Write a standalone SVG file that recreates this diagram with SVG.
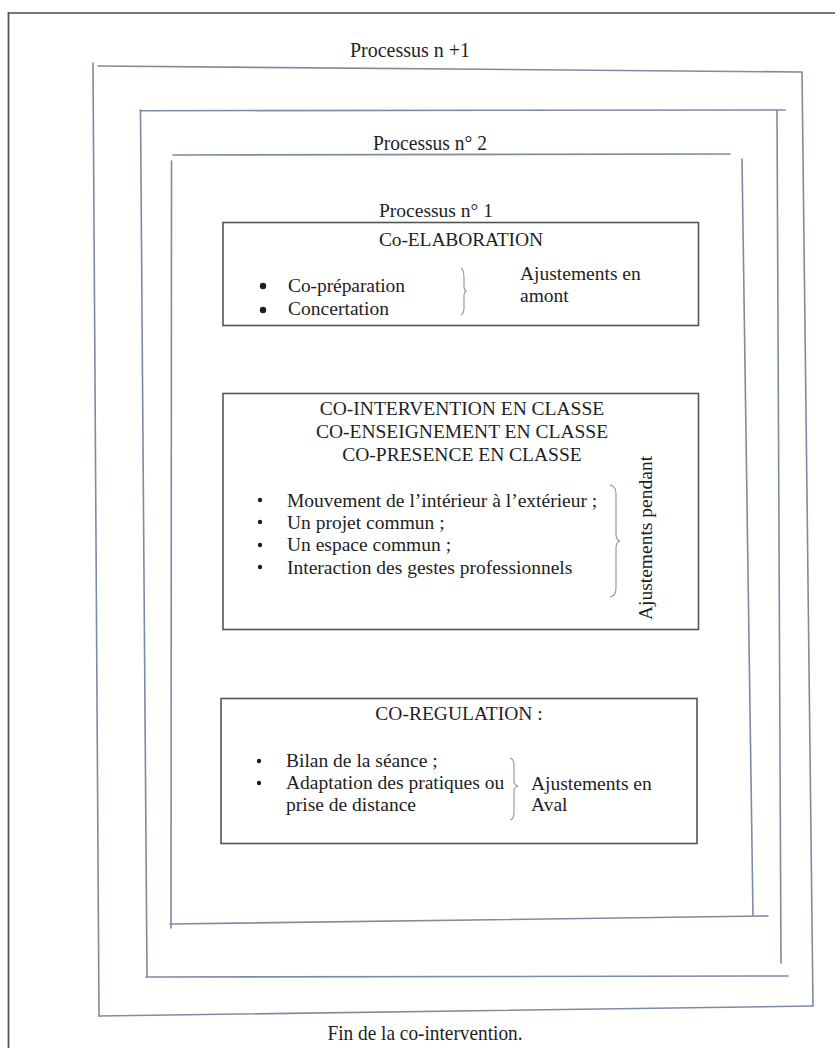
<svg xmlns="http://www.w3.org/2000/svg" width="835" height="1048" viewBox="0 0 835 1048">
<style>
.t{font-family:"Liberation Serif","Times New Roman",serif;font-size:19.5px;fill:#1e1e1e}
.c{text-anchor:middle}
.lbl{font-family:"Liberation Serif","Times New Roman",serif;font-size:21px;fill:#1e1e1e;text-anchor:middle}
.frame{fill:none;stroke:#7d8ba3;stroke-width:1.6;stroke-linecap:round}
.box{fill:#fff;stroke:#555;stroke-width:1.6}
.brace{fill:none;stroke:#8a95a8;stroke-width:1.1}
.bul{fill:#1e1e1e}
</style>
<rect x="0" y="0" width="835" height="1048" fill="#fff"/>
<g id="page-frame">
<line x1="8" y1="13" x2="835" y2="13" stroke="#7a7a7a" stroke-width="2.2"/>
<line x1="8.5" y1="12" x2="8.5" y2="1048" stroke="#555" stroke-width="1.8"/>
</g>
<g id="processus-n-plus-1">
<line class="frame" x1="98" y1="66" x2="801" y2="72"/>
<line class="frame" x1="802" y1="72" x2="813" y2="1006"/>
<line class="frame" x1="99" y1="1016" x2="813" y2="1006"/>
<line class="frame" x1="93" y1="63" x2="99" y2="1016"/>
<text class="lbl" x="410" y="57" textLength="120" lengthAdjust="spacingAndGlyphs">Processus n +1</text>
</g>
<g id="processus-2">
<line class="frame" x1="140" y1="110.7" x2="785" y2="110"/>
<line class="frame" x1="777" y1="110" x2="781" y2="963"/>
<line class="frame" x1="146" y1="977" x2="788" y2="976"/>
<line class="frame" x1="140.5" y1="110" x2="147" y2="977"/>
<text class="lbl" x="430" y="150" textLength="114" lengthAdjust="spacingAndGlyphs">Processus n° 2</text>
</g>
<g id="processus-1">
<line class="frame" x1="173" y1="155" x2="730" y2="154"/>
<line class="frame" x1="742" y1="159" x2="753" y2="916"/>
<line class="frame" x1="170" y1="924" x2="768" y2="916"/>
<line class="frame" x1="171.5" y1="161" x2="171" y2="928"/>
<text class="t c" x="436" y="217">Processus n° 1</text>
</g>
<g id="co-elaboration">
<rect class="box" x="223" y="222.5" width="475.5" height="103"/>
<text class="t c" x="461" y="246" textLength="164" lengthAdjust="spacing">Co-ELABORATION</text>
<circle class="bul" cx="263" cy="286" r="3.2"/>
<circle class="bul" cx="263" cy="310" r="3.2"/>
<text class="t" x="288" y="291.5" textLength="117" lengthAdjust="spacing">Co-préparation</text>
<text class="t" x="288" y="315" textLength="101" lengthAdjust="spacing">Concertation</text>
<text class="t" x="520" y="280">Ajustements en</text>
<text class="t" x="520" y="302">amont</text>
</g>
<g id="co-intervention">
<rect class="box" x="223" y="393.5" width="475.5" height="236"/>
<text class="t c" x="462" y="415">CO-INTERVENTION EN CLASSE</text>
<text class="t c" x="462" y="438">CO-ENSEIGNEMENT EN CLASSE</text>
<text class="t c" x="462" y="461">CO-PRESENCE EN CLASSE</text>
<circle class="bul" cx="260" cy="500" r="2.2"/>
<circle class="bul" cx="260" cy="522" r="2.2"/>
<circle class="bul" cx="260" cy="545" r="2.2"/>
<circle class="bul" cx="260" cy="567" r="2.2"/>
<text class="t" x="287" y="506.5">Mouvement de l’intérieur à l’extérieur ;</text>
<text class="t" x="287" y="528.5">Un projet commun ;</text>
<text class="t" x="287" y="551">Un espace commun ;</text>
<text class="t" x="287" y="573.5">Interaction des gestes professionnels</text>
<text class="t c" transform="translate(652,538) rotate(-90)">Ajustements pendant</text>
</g>
<g id="co-regulation">
<rect class="box" x="221" y="698.5" width="476" height="145"/>
<text class="t c" x="459" y="720">CO-REGULATION :</text>
<circle class="bul" cx="259" cy="761" r="2.2"/>
<circle class="bul" cx="259" cy="783" r="2.2"/>
<text class="t" x="286" y="767">Bilan de la séance ;</text>
<text class="t" x="286" y="789">Adaptation des pratiques ou</text>
<text class="t" x="286" y="811">prise de distance</text>
<text class="t" x="531" y="790">Ajustements en</text>
<text class="t" x="531" y="811">Aval</text>
</g>
<g id="connectors">
<path class="brace" d="M461,268 Q464,270 464,278 L464,287 Q464,290 466,291 Q464,292 464,295 L464,308 Q464,313 461,315"/>
<path class="brace" d="M610,485 Q616,486 616,494 L616,534 Q616,540 620,541 Q616,542 616,548 L616,588 Q616,596 610,597"/>
<path class="brace" d="M510,758 Q514,759 514,765 L514,781 Q514,785 518,786 Q514,787 514,791 L514,813 Q514,819 510,820"/>
</g>
<g id="fin">
<text class="lbl" x="425" y="1040" textLength="195" lengthAdjust="spacingAndGlyphs">Fin de la co-intervention.</text>
</g>
</svg>
